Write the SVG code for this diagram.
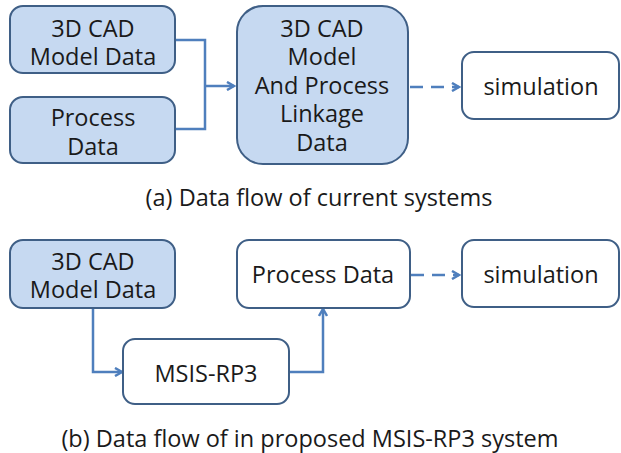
<svg xmlns="http://www.w3.org/2000/svg" width="621" height="453" viewBox="0 0 621 453">
<style>
.blue{fill:#c6d9f1;stroke:#3f5f86;stroke-width:2}
.white{fill:#ffffff;stroke:#3f5f86;stroke-width:2}
text{font-family:"Open Sans","Noto Sans","Liberation Sans",sans-serif;font-size:23.5px;fill:#1a1a1a;text-anchor:middle}
.c{fill:none;stroke:#4f7fbd;stroke-width:2.5}
.d{fill:none;stroke:#4f7fbd;stroke-width:2.5;stroke-dasharray:13 8}
</style>
<defs>
<marker id="ah" markerWidth="10" markerHeight="10" refX="8" refY="5" orient="auto" markerUnits="userSpaceOnUse">
<path d="M1,1 L8,5 L1,9" fill="none" stroke="#4f7fbd" stroke-width="2.5"/>
</marker>
</defs>
<rect width="621" height="453" fill="#ffffff"/>
<g id="connectors">
<path class="c" d="M175,40 H205 V129 H175"/>
<path class="c" d="M205,86 H234" marker-end="url(#ah)"/>
<path class="d" d="M410,87 H459" marker-end="url(#ah)"/>
<path class="c" d="M93,308 V372 H122" marker-end="url(#ah)"/>
<path class="c" d="M289,372 H323 V309" marker-end="url(#ah)"/>
<path class="d" d="M411,275 H459" marker-end="url(#ah)"/>
</g>
<g id="a_cad">
<rect class="blue" x="10" y="6" width="165" height="67" rx="13"/>
<text x="93" y="37">3D CAD</text>
<text x="93" y="65">Model Data</text>
</g>
<g id="a_process">
<rect class="blue" x="10" y="97" width="165" height="66" rx="13"/>
<text x="93" y="126">Process</text>
<text x="93" y="155">Data</text>
</g>
<g id="a_linkage">
<rect class="blue" x="237" y="6" width="171" height="158" rx="26"/>
<text x="322" y="37">3D CAD</text>
<text x="322" y="65">Model</text>
<text x="322" y="94">And Process</text>
<text x="322" y="122">Linkage</text>
<text x="322" y="151">Data</text>
</g>
<g id="a_sim">
<rect class="white" x="462" y="52" width="157" height="67" rx="12"/>
<text x="541" y="95">simulation</text>
</g>
<text x="319" y="206">(a) Data flow of current systems</text>
<g id="b_cad">
<rect class="blue" x="10" y="240" width="165" height="68" rx="13"/>
<text x="93" y="270">3D CAD</text>
<text x="93" y="298">Model Data</text>
</g>
<g id="b_process">
<rect class="white" x="237" y="240" width="173" height="68" rx="12"/>
<text x="323" y="283">Process Data</text>
</g>
<g id="b_sim">
<rect class="white" x="462" y="240" width="157" height="67" rx="12"/>
<text x="541" y="283">simulation</text>
</g>
<g id="b_msis">
<rect class="white" x="123" y="339" width="166" height="65" rx="12"/>
<text x="206" y="382">MSIS-RP3</text>
</g>
<text x="310" y="447">(b) Data flow of in proposed MSIS-RP3 system</text>
</svg>
